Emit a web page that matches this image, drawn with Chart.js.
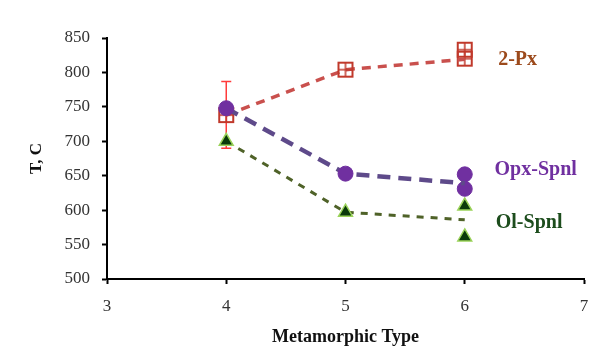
<!DOCTYPE html>
<html>
<head>
<meta charset="utf-8">
<script src="https://cdn.jsdelivr.net/npm/chart.js@4/dist/chart.umd.min.js"></script>
<style>
  html, body { margin: 0; padding: 0; background: #fff; }
  #wrap { width: 597px; height: 352px; position: relative; }
</style>
</head>
<body>
<div id="wrap"><canvas id="myChart"></canvas></div>
<script>
// metamorphic type on x
let types = [4, 5, 6];

// mean temperature per type (line)
let pxMean = [738, 804, 819];
let opxMean = [748, 653, 639];
let olMean = [700, 597, 586];

// individual values plotted at type 6
let pxType6 = [833, 820];
let opxType6 = [652, 631];
let olType6 = [606, 561];

// error bar on 2-Px at type 4
let pxErrLow = 690;
let pxErrHigh = 787;

// series labels, placed in data units
let seriesNames = ['2-Px', 'Opx-Spnl', 'Ol-Spnl'];
let labelX = [6.28, 6.25, 6.26];
let labelY = [818, 658, 581];
let labelColors = ['#9c4a1c', '#7030a0', '#1d4d1d'];

function pts(xs, ys) {
    return ys.map((v, i) => ({ x: xs[i], y: v }));
}

// square with a cross inside
function makeSquareCross() {
    let c = document.createElement('canvas');
    c.width = 18; c.height = 18;
    let g = c.getContext('2d');
    g.strokeStyle = '#c0392b';
    g.lineWidth = 2;
    g.strokeRect(2, 2, 14, 14);
    g.lineWidth = 1.5;
    g.beginPath();
    g.moveTo(9, 2); g.lineTo(9, 16);
    g.moveTo(2, 9); g.lineTo(16, 9);
    g.stroke();
    return c;
}
let sq = makeSquareCross();

const extras = {
    id: 'extras',
    beforeDatasetsDraw(chart) {
        let ctx = chart.ctx;
        let xs = chart.scales.x, ys = chart.scales.y;
        let x = xs.getPixelForValue(types[0]);
        let y1 = ys.getPixelForValue(pxErrHigh);
        let y2 = ys.getPixelForValue(pxErrLow);
        ctx.save();
        ctx.strokeStyle = '#ff3b3b';
        ctx.lineWidth = 1.5;
        ctx.beginPath();
        ctx.moveTo(x, y1); ctx.lineTo(x, y2);
        ctx.moveTo(x - 5, y1); ctx.lineTo(x + 5, y1);
        ctx.moveTo(x - 5, y2); ctx.lineTo(x + 5, y2);
        ctx.stroke();
        ctx.restore();
    },
    afterDraw(chart) {
        let ctx = chart.ctx;
        let xs = chart.scales.x, ys = chart.scales.y;
        ctx.save();
        ctx.font = 'bold 20px "Liberation Serif"';
        ctx.textBaseline = 'middle';
        seriesNames.forEach((n, i) => {
            ctx.fillStyle = labelColors[i];
            ctx.fillText(n, xs.getPixelForValue(labelX[i]), ys.getPixelForValue(labelY[i]));
        });
        ctx.restore();
    }
};

let config = {
    type: 'scatter',
    data: {
        datasets: [
            {
                label: '2-Px',
                data: pts(types, pxMean),
                showLine: true,
                borderColor: '#c9504d',
                borderWidth: 3.5,
                borderDash: [9, 7],
                pointStyle: sq,
                pointRadius: [9, 9, 0],
                order: 3
            },
            {
                label: '2-Px type 6',
                data: pts([6, 6], pxType6),
                pointStyle: sq,
                pointRadius: 9,
                order: 3
            },
            {
                label: 'Ol-Spnl',
                data: pts(types, olMean),
                showLine: true,
                borderColor: '#4f6228',
                borderWidth: 3,
                borderDash: [7, 7],
                pointStyle: 'triangle',
                pointRadius: [8, 8, 0],
                pointBackgroundColor: '#0b3a0b',
                pointBorderColor: '#9bd35a',
                pointBorderWidth: 1.5,
                order: 2
            },
            {
                label: 'Ol-Spnl type 6',
                data: pts([6, 6], olType6),
                pointStyle: 'triangle',
                pointRadius: 8,
                pointBackgroundColor: '#0b3a0b',
                pointBorderColor: '#9bd35a',
                pointBorderWidth: 1.5,
                order: 2
            },
            {
                label: 'Opx-Spnl',
                data: pts(types, opxMean),
                showLine: true,
                borderColor: '#5e4a8a',
                borderWidth: 4.5,
                borderDash: [13, 8],
                pointStyle: 'circle',
                pointRadius: [7.5, 7.5, 0],
                pointBackgroundColor: '#7030a0',
                pointBorderColor: '#7030a0',
                pointBorderWidth: 1,
                order: 1
            },
            {
                label: 'Opx-Spnl type 6',
                data: pts([6, 6], opxType6),
                pointStyle: 'circle',
                pointRadius: 7.5,
                pointBackgroundColor: '#7030a0',
                pointBorderColor: '#7030a0',
                pointBorderWidth: 1,
                order: 1
            }
        ]
    },
    options: {
        responsive: true,
        maintainAspectRatio: false,
        animation: false,
        layout: { padding: { top: 38, right: 13, left: 22, bottom: 0 } },
        plugins: {
            legend: { display: false },
            tooltip: { enabled: false }
        },
        scales: {
            x: {
                type: 'linear',
                min: 3,
                max: 7,
                afterFit: s => { s.height = 73; s.paddingRight = 0; s.paddingLeft = 0; },
                ticks: {
                    stepSize: 1,
                    color: '#333',
                    font: { family: 'Liberation Serif', size: 17 },
                    padding: 12
                },
                grid: {
                    drawOnChartArea: false,
                    color: '#000',
                    tickLength: 5,
                    tickWidth: 2
                },
                border: { color: '#000', width: 2 },
                title: {
                    display: true,
                    text: 'Metamorphic Type',
                    color: '#111',
                    font: { family: 'Liberation Serif', size: 18, weight: 'bold' },
                    padding: { top: 0, bottom: 4 }
                }
            },
            y: {
                min: 500,
                max: 850,
                afterFit: s => { s.width = 85; s.paddingTop = 0; s.paddingBottom = 0; },
                ticks: {
                    stepSize: 50,
                    color: '#333',
                    font: { family: 'Liberation Serif', size: 17 },
                    padding: 12
                },
                grid: {
                    drawOnChartArea: false,
                    color: '#000',
                    tickLength: 5,
                    tickWidth: 2
                },
                border: { color: '#000', width: 2 },
                title: {
                    display: true,
                    text: 'T, C',
                    color: '#111',
                    font: { family: 'Liberation Serif', size: 17, weight: 'bold' },
                    padding: { bottom: 0 }
                }
            }
        }
    },
    plugins: [extras]
};

let myChart = new Chart(document.getElementById('myChart'), config);
</script>
</body>
</html>
